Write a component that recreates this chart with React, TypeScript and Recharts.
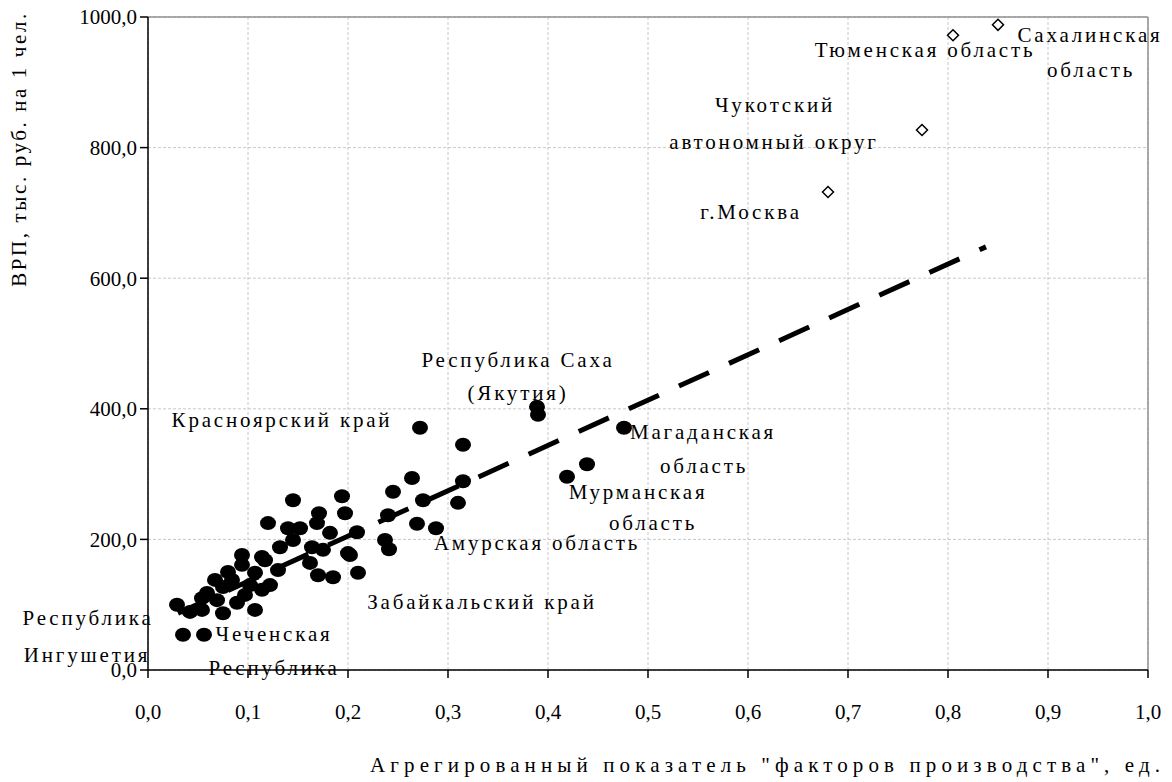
import React from 'react';
import {
  ScatterChart,
  Scatter,
  XAxis,
  YAxis,
  CartesianGrid,
  ReferenceLine,
  ReferenceDot,
} from 'recharts';

// Regions (black dots): aggregated "production factors" index vs GRP per capita
const regionPoints = [
  { x: 0.094, y: 176 }, { x: 0.094, y: 161 }, { x: 0.114, y: 173 }, { x: 0.107, y: 149 },
  { x: 0.084, y: 138 }, { x: 0.075, y: 127 }, { x: 0.059, y: 118 }, { x: 0.054, y: 110 },
  { x: 0.029, y: 100 }, { x: 0.042, y: 89 }, { x: 0.054, y: 92 }, { x: 0.075, y: 87 },
  { x: 0.089, y: 103 }, { x: 0.107, y: 92 }, { x: 0.097, y: 115 }, { x: 0.069, y: 107 },
  { x: 0.035, y: 54 }, { x: 0.056, y: 54 }, { x: 0.145, y: 260 }, { x: 0.194, y: 266 },
  { x: 0.12, y: 225 }, { x: 0.171, y: 240 }, { x: 0.169, y: 225 }, { x: 0.197, y: 240 },
  { x: 0.14, y: 217 }, { x: 0.152, y: 217 }, { x: 0.182, y: 210 }, { x: 0.209, y: 211 },
  { x: 0.132, y: 188 }, { x: 0.145, y: 199 }, { x: 0.164, y: 188 }, { x: 0.175, y: 184 },
  { x: 0.2, y: 179 }, { x: 0.117, y: 168 }, { x: 0.13, y: 153 }, { x: 0.162, y: 164 },
  { x: 0.17, y: 145 }, { x: 0.185, y: 142 }, { x: 0.21, y: 149 }, { x: 0.114, y: 123 },
  { x: 0.122, y: 130 }, { x: 0.067, y: 138 }, { x: 0.08, y: 150 }, { x: 0.102, y: 130 },
  { x: 0.272, y: 371 }, { x: 0.315, y: 345 }, { x: 0.389, y: 403 }, { x: 0.39, y: 391 },
  { x: 0.476, y: 371 }, { x: 0.439, y: 315 }, { x: 0.419, y: 296 }, { x: 0.264, y: 294 },
  { x: 0.315, y: 289 }, { x: 0.245, y: 273 }, { x: 0.275, y: 260 }, { x: 0.24, y: 237 },
  { x: 0.31, y: 256 }, { x: 0.269, y: 224 }, { x: 0.288, y: 217 }, { x: 0.237, y: 199 },
  { x: 0.241, y: 185 }, { x: 0.202, y: 176 },
];

// Outliers (open diamonds): Moscow, Chukotka, Tyumen, Sakhalin
const outlierPoints = [
  { x: 0.68, y: 732 },
  { x: 0.774, y: 827 },
  { x: 0.805, y: 972 },
  { x: 0.85, y: 988 },
];

// Linear trend endpoints
const trendStart = { x: 0.03, y: 87 };
const trendEnd = { x: 0.838, y: 648 };

const xTicks = [0, 0.1, 0.2, 0.3, 0.4, 0.5, 0.6, 0.7, 0.8, 0.9, 1.0];
const yTicks = [0, 200, 400, 600, 800, 1000];

// Region name annotations (one entry per text line, anchored in data units)
const annotationLines = [
  { x: 0.777, y: 949, text: 'Тюменская область' },
  { x: 0.942, y: 972, text: 'Сахалинская' },
  { x: 0.943, y: 919, text: 'область' },
  { x: 0.627, y: 865, text: 'Чукотский' },
  { x: 0.626, y: 809, text: 'автономный округ' },
  { x: 0.603, y: 701, text: 'г.Москва' },
  { x: 0.37, y: 475, text: 'Республика Саха' },
  { x: 0.37, y: 424, text: '(Якутия)' },
  { x: 0.134, y: 383, text: 'Красноярский край' },
  { x: 0.555, y: 364, text: 'Магаданская' },
  { x: 0.556, y: 312, text: 'область' },
  { x: 0.49, y: 273, text: 'Мурманская' },
  { x: 0.505, y: 225, text: 'область' },
  { x: 0.389, y: 194, text: 'Амурская область' },
  { x: 0.334, y: 104, text: 'Забайкальский край' },
  { x: -0.06, y: 80, text: 'Республика' },
  { x: -0.061, y: 23, text: 'Ингушетия' },
  { x: 0.126, y: 55, text: 'Чеченская' },
  { x: 0.126, y: 3, text: 'Республика' },
];

const xTitle = 'Агрегированный показатель "факторов производства", ед.';
const yTitle = 'ВРП, тыс. руб. на 1 чел.';

const FONT = 'Liberation Serif, Tinos, Times New Roman, DejaVu Serif, serif';
const FS = 21;
const LS = 2.8;

const fmt = (v: number) => v.toFixed(1).replace('.', ',');

const DotShape = (props: any) => {
  const { cx, cy } = props;
  if (cx == null || cy == null) return null;
  return <ellipse cx={cx} cy={cy} rx={8} ry={7} fill="#000" />;
};

const DiamondShape = (props: any) => {
  const { cx, cy } = props;
  if (cx == null || cy == null) return null;
  const s = 5.5;
  return (
    <path
      d={`M${cx},${cy - s}L${cx + s},${cy}L${cx},${cy + s}L${cx - s},${cy}Z`}
      fill="#fff"
      stroke="#000"
      strokeWidth={1.5}
    />
  );
};

const textStyle = { fontFamily: FONT, fontSize: FS };

const makeTextShape = (text: string) => (props: any) => {
  const { cx, cy } = props;
  if (cx == null || cy == null) return null;
  return (
    <text
      x={cx}
      y={cy}
      textAnchor="middle"
      dominantBaseline="central"
      style={{ ...textStyle, letterSpacing: LS }}
      fill="#000"
    >
      {text}
    </text>
  );
};

export default function App() {
  return (
    <div style={{ width: 1164, height: 774, fontFamily: FONT }}>
      <ScatterChart
        width={1164}
        height={774}
        margin={{ top: 9, right: 24, bottom: 0, left: 0 }}
        style={{ fontFamily: FONT }}
      >
        <CartesianGrid stroke="#c8c8c8" strokeDasharray="3 2" />
        <XAxis
          type="number"
          dataKey="x"
          domain={[0, 1]}
          ticks={xTicks}
          tickFormatter={fmt}
          height={112}
          tickSize={8}
          tickMargin={26}
          axisLine={{ stroke: '#000', strokeWidth: 1.5 }}
          tickLine={{ stroke: '#000', strokeWidth: 1.5 }}
          tick={{ fill: '#000', fontSize: FS, fontFamily: FONT, style: textStyle }}
          interval={0}
          allowDataOverflow
          label={{
            content: (p: any) => {
              const vb = p.viewBox || { x: 140, y: 662, width: 1000 };
              const right = vb.x + vb.width + 12;
              return (
                <text
                  x={right - 790}
                  y={vb.y + 95}
                  textAnchor="start"
                  dominantBaseline="central"
                  textLength={790}
                  lengthAdjust="spacing"
                  style={textStyle}
                  fill="#000"
                >
                  {xTitle}
                </text>
              );
            },
          }}
        />
        <YAxis
          type="number"
          dataKey="y"
          domain={[0, 1000]}
          ticks={yTicks}
          tickFormatter={fmt}
          width={140}
          tickSize={8}
          tickMargin={3}
          axisLine={{ stroke: '#000', strokeWidth: 1.5 }}
          tickLine={{ stroke: '#000', strokeWidth: 1.5 }}
          tick={{ fill: '#000', fontSize: FS, fontFamily: FONT, style: textStyle }}
          interval={0}
          allowDataOverflow
          label={{
            content: (p: any) => {
              const vb = p.viewBox || { x: 0, y: 9, height: 653 };
              const cx = 11;
              const cy = vb.y + 132;
              return (
                <text
                  x={cx}
                  y={cy}
                  transform={`rotate(-90, ${cx}, ${cy})`}
                  textAnchor="middle"
                  dominantBaseline="central"
                  style={{ ...textStyle, letterSpacing: 2.6 }}
                  fill="#000"
                >
                  {yTitle}
                </text>
              );
            },
          }}
        />
        <ReferenceLine y={1000} stroke="#909090" strokeWidth={1.5} />
        <ReferenceLine x={1} stroke="#909090" strokeWidth={1.5} />
        <Scatter
          data={regionPoints}
          shape={DotShape}
          isAnimationActive={false}
        />
        <Scatter
          data={outlierPoints}
          shape={DiamondShape}
          isAnimationActive={false}
        />
        <ReferenceLine
          segment={[trendStart, trendEnd]}
          stroke="#000"
          strokeWidth={5}
          strokeDasharray="33 22"
          ifOverflow="visible"
        />
        {annotationLines.map((a, i) => (
          <ReferenceDot
            key={i}
            x={a.x}
            y={a.y}
            r={0}
            ifOverflow="visible"
            shape={makeTextShape(a.text)}
          />
        ))}
      </ScatterChart>
    </div>
  );
}
